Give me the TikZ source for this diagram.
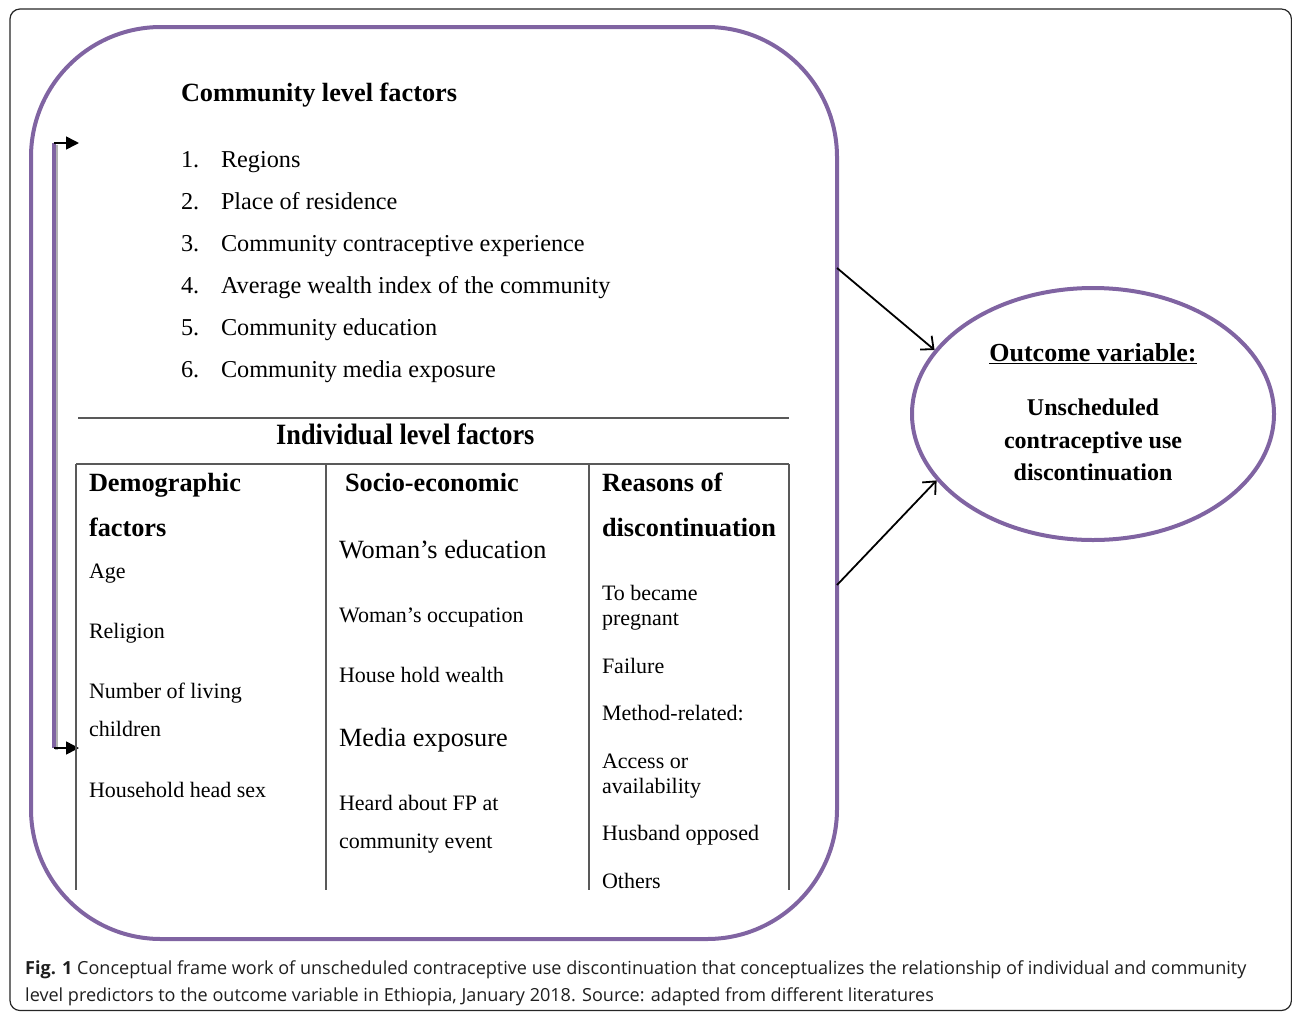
\documentclass[tikz,border=0pt]{standalone}
\usepackage{fontspec}
\setmainfont{Liberation Serif}
\newfontfamily\condfont[FakeStretch=0.89]{Liberation Serif}
\newfontfamily\capfont{Open Sans}
\usetikzlibrary{arrows.meta,shapes.geometric}
\definecolor{boxpurple}{HTML}{8064A2}
\tikzset{
  txt/.style={anchor=base west, inner sep=0pt, outer sep=0pt, font=\fontsize{22}{22}\selectfont},
  listtxt/.style={txt, font=\fontsize{24.25}{24}\selectfont},
  bigtxt/.style={txt, font=\fontsize{26.3}{26}\selectfont},
  headtxt/.style={txt, font=\fontsize{26.3}{26}\selectfont\bfseries},
  elltxt/.style={anchor=base, inner sep=0pt, font=\fontsize{24}{24}\selectfont\bfseries},
  captxt/.style={anchor=base west, inner sep=0pt, text=black!88, font=\capfont\fontsize{18.05}{18}\selectfont},
  tabline/.style={draw=black!65, line width=1.3pt},
  purpleline/.style={draw=boxpurple, line width=4pt},
  barrow/.style={line width=1.6pt, -{Triangle[length=13pt,width=13pt]}},
  earrow/.style={line width=1.8pt, -{Straight Barb[length=10pt,width=18pt,line width=1.8pt]}}
}
\begin{document}
\begin{tikzpicture}[x=1pt,y=-1pt]
\useasboundingbox (0,0) rectangle (1292,1012);
% outer frame
\draw[black!85, line width=1.2pt, rounded corners=10pt] (10,9) rectangle (1291.4,1010.5);
% community box
\node[purpleline, rectangle, rounded corners=130pt, minimum width=806pt, minimum height=912pt, inner sep=0pt] (comm) at (434,483) {};
% outcome ellipse
\node[purpleline, ellipse, minimum width=362pt, minimum height=252pt, inner sep=0pt] (ell) at (1093,414) {};
% vertical bar with shadow
\coordinate (bt) at (53.5,143);
\coordinate (bb) at (53.5,748);
\coordinate (t1) at (79,143);
\coordinate (t2) at (79,748);
\draw[black!30, line width=3pt] (56.5,145) -- (56.5,750);
\draw[purpleline] (bt) -- (bb);
\draw[barrow] (bt) -- (t1);
\draw[barrow] (bb) -- (t2);
% arrows to ellipse
\coordinate (a1) at (837,268);
\coordinate (a2) at (837,585);
\draw[earrow] (a1) -- (ell.158.6);
\draw[earrow] (a2) -- (ell.203.6);
% lines of the table
\coordinate (h1) at (78,418);
\coordinate (h2) at (789,418);
\draw[tabline] (h1) -- (h2);
\coordinate (tl) at (76,464);
\coordinate (tr) at (789,464);
\draw[tabline] (tl) -- (tr);
\coordinate (v1b) at (76,890);
\coordinate (v2t) at (326,464);
\coordinate (v2b) at (326,890);
\coordinate (v3t) at (589,464);
\coordinate (v3b) at (589,890);
\coordinate (v4b) at (789,890);
\draw[tabline] (tl) -- (v1b);
\draw[tabline] (v2t) -- (v2b);
\draw[tabline] (v3t) -- (v3b);
\draw[tabline] (tr) -- (v4b);
% community level text
\node[headtxt] (ch) at (181,101) {Community level factors};
\node[listtxt] (n1) at (181,167) {1.};
\node[listtxt] (l1) at (221,167) {Regions};
\node[listtxt] (n2) at (181,209) {2.};
\node[listtxt] (l2) at (221,209) {Place of residence};
\node[listtxt] (n3) at (181,251) {3.};
\node[listtxt] (l3) at (221,251) {Community contraceptive experience};
\node[listtxt] (n4) at (181,293) {4.};
\node[listtxt] (l4) at (221,293) {Average wealth index of the community};
\node[listtxt] (n5) at (181,335) {5.};
\node[listtxt] (l5) at (221,335) {Community education};
\node[listtxt] (n6) at (181,377) {6.};
\node[listtxt] (l6) at (221,377) {Community media exposure};
% individual
\node[anchor=base west, inner sep=0pt, font=\condfont\fontsize{29.5}{30}\selectfont\bfseries] (ih) at (276,444) {Individual level factors};
% column 1
\node[headtxt] (d1) at (89,491) {Demographic};
\node[headtxt] (d2) at (89,536) {factors};
\node[txt] (d3) at (89,578) {Age};
\node[txt] (d4) at (89,638) {Religion};
\node[txt] (d5) at (89,698) {Number of living};
\node[txt] (d6) at (89,736) {children};
\node[txt] (d7) at (89,797) {Household head sex};
% column 2
\node[headtxt] (s1) at (345,491) {Socio-economic};
\node[bigtxt] (s2) at (339,558) {Woman’s education};
\node[txt] (s3) at (339,622) {Woman’s occupation};
\node[txt] (s4) at (339,682) {House hold wealth};
\node[bigtxt] (s5) at (339,746) {Media exposure};
\node[txt] (s6) at (339,810) {Heard about FP at};
\node[txt] (s7) at (339,848) {community event};
% column 3
\node[headtxt] (r1) at (602,491) {Reasons of};
\node[headtxt] (r2) at (602,536) {discontinuation};
\node[txt] (r3) at (602,600) {To became};
\node[txt] (r4) at (602,625) {pregnant};
\node[txt] (r5) at (602,673) {Failure};
\node[txt] (r6) at (602,720) {Method-related:};
\node[txt] (r7) at (602,768) {Access or};
\node[txt] (r8) at (602,793) {availability};
\node[txt] (r9) at (602,840) {Husband opposed};
\node[txt] (r10) at (602,888) {Others};
% ellipse text
\node[elltxt, font=\fontsize{26}{26}\selectfont\bfseries] (o1) at (1093,361) {\underline{Outcome variable:}};
\node[elltxt] (o2) at (1093,415) {Unscheduled};
\node[elltxt] (o3) at (1093,448) {contraceptive use};
\node[elltxt] (o4) at (1093,480) {discontinuation};
% caption
\node[captxt] (c1) at (25,974) {\textbf{Fig. 1} Conceptual frame work of unscheduled contraceptive use discontinuation that conceptualizes the relationship of individual and community};
\node[captxt] (c2) at (25,1001) {level predictors to the outcome variable in Ethiopia, January 2018. Source: adapted from different literatures};
\end{tikzpicture}
\end{document}
